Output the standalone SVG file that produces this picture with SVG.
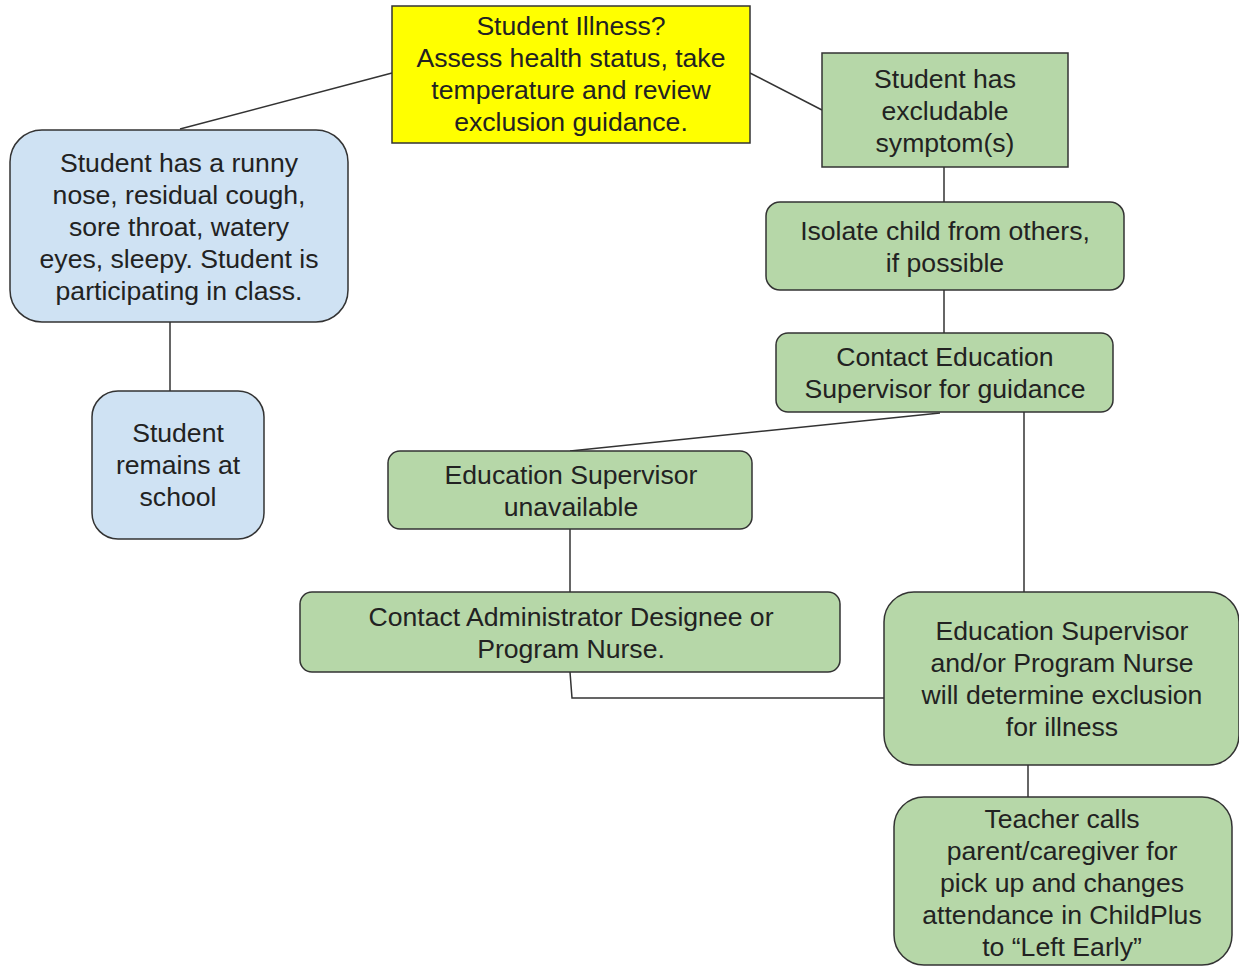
<svg xmlns="http://www.w3.org/2000/svg" width="1239" height="966" viewBox="0 0 1239 966">
<style>
text{font-family:"Liberation Sans",Arial,sans-serif;font-size:26.6px;fill:#222;text-anchor:middle}
.g{fill:#b6d7a8;stroke:#333;stroke-width:1.5}
.b{fill:#cfe2f3;stroke:#333;stroke-width:1.5}
.y{fill:#ffff00;stroke:#333;stroke-width:1.5}
.c line,.c polyline{stroke:#333;stroke-width:1.5;fill:none}
</style>
<rect width="1239" height="966" fill="#fff"/>
<g class="c" id="connectors">
<line x1="392" y1="73" x2="180" y2="129"/>
<line x1="750" y1="73" x2="822" y2="110"/>
<line x1="944" y1="167" x2="944" y2="202"/>
<line x1="944" y1="290" x2="944" y2="333"/>
<line x1="940" y1="413" x2="570" y2="451"/>
<line x1="1024" y1="412" x2="1024" y2="592"/>
<line x1="570" y1="529" x2="570" y2="592"/>
<polyline points="570,672 572,698 884,698"/>
<line x1="1028" y1="765" x2="1028" y2="797"/>
<line x1="170" y1="322" x2="170" y2="391"/>
</g>
<g id="n-illness"><rect class="y" x="392" y="6" width="358" height="137"/>
<text x="571" y="35">Student Illness?</text><text x="571" y="67">Assess health status, take</text><text x="571" y="99">temperature and review</text><text x="571" y="131">exclusion guidance.</text></g>
<g id="n-runny"><rect class="b" x="10" y="130" width="338" height="192" rx="32"/>
<text x="179" y="172">Student has a runny</text><text x="179" y="204">nose, residual cough,</text><text x="179" y="236">sore throat, watery</text><text x="179" y="268">eyes, sleepy. Student is</text><text x="179" y="300">participating in class.</text></g>
<g id="n-remains"><rect class="b" x="92" y="391" width="172" height="148" rx="26"/>
<text x="178" y="442">Student</text><text x="178" y="474">remains at</text><text x="178" y="506">school</text></g>
<g id="n-excludable"><rect class="g" x="822" y="53" width="246" height="114"/>
<text x="945" y="88">Student has</text><text x="945" y="120">excludable</text><text x="945" y="152">symptom(s)</text></g>
<g id="n-isolate"><rect class="g" x="766" y="202" width="358" height="88" rx="14"/>
<text x="945" y="240">Isolate child from others,</text><text x="945" y="272">if possible</text></g>
<g id="n-contact-ed"><rect class="g" x="776" y="333" width="337" height="79" rx="12"/>
<text x="945" y="366">Contact Education</text><text x="945" y="398">Supervisor for guidance</text></g>
<g id="n-unavailable"><rect class="g" x="388" y="451" width="364" height="78" rx="12"/>
<text x="571" y="484">Education Supervisor</text><text x="571" y="516">unavailable</text></g>
<g id="n-admin"><rect class="g" x="300" y="592" width="540" height="80" rx="12"/>
<text x="571" y="626">Contact Administrator Designee or</text><text x="571" y="658">Program Nurse.</text></g>
<g id="n-determine"><rect class="g" x="884" y="592" width="355" height="173" rx="30"/>
<text x="1062" y="640">Education Supervisor</text><text x="1062" y="672">and/or Program Nurse</text><text x="1062" y="704">will determine exclusion</text><text x="1062" y="736">for illness</text></g>
<g id="n-teacher"><rect class="g" x="894" y="797" width="338" height="168" rx="30"/>
<text x="1062" y="828">Teacher calls</text><text x="1062" y="860">parent/caregiver for</text><text x="1062" y="892">pick up and changes</text><text x="1062" y="924">attendance in ChildPlus</text><text x="1062" y="956">to “Left Early”</text></g>
</svg>
